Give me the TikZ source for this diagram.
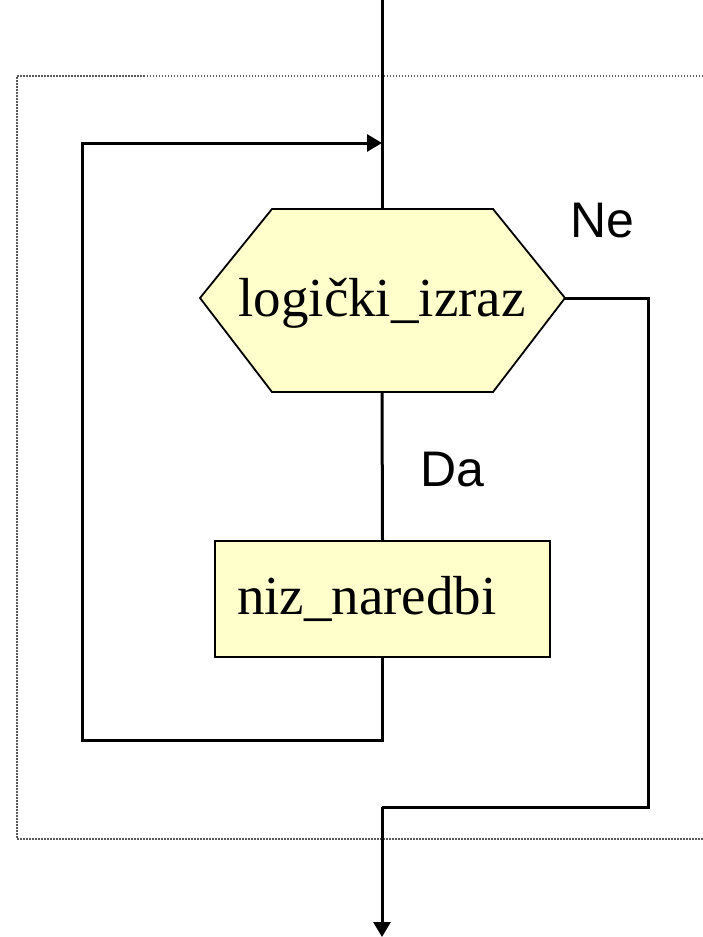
\documentclass[tikz,border=0pt]{standalone}
\usepackage{fontspec}
\setmainfont{Liberation Serif}
\newfontfamily\labelfont{Liberation Sans}
\usetikzlibrary{arrows.meta}
\definecolor{boxfill}{HTML}{FFFFCC}

\begin{document}
\begin{tikzpicture}[
x=1pt, y=-1pt,
flow/.style={line width=3pt, line join=miter},
flowarrow/.style={flow, -{Triangle[length=15pt, width=17pt]}},
frame/.style={black!65, line width=1.5pt, dash pattern=on 1.5pt off 1.5pt},
hexbox/.style={draw=black, fill=boxfill, line width=1.8pt, line join=miter},
stepbox/.style={rectangle, draw=black, fill=boxfill, line width=2.2pt, minimum width=335pt, minimum height=116pt, text width=291pt, inner xsep=22pt, align=left, font=\fontsize{55}{60}\selectfont},
condtext/.style={font=\fontsize{55}{60}\selectfont, inner sep=0pt},
answer/.style={font=\labelfont\fontsize{50}{55}\selectfont, inner sep=0pt},
]
\useasboundingbox (0,0) rectangle (703,937);

% dotted frame (open on the right)
\draw[frame] (703,76) -- (17,76) -- (17,839) -- (703,839);

% condition hexagon
\coordinate (hexT) at (382,209);
\coordinate (hexB) at (382,392);
\coordinate (hexL) at (200,298);
\coordinate (hexR) at (565,298);
\draw[hexbox] (272,209) -- (493,209) -- (hexR) -- (493,392) -- (272,392) -- (hexL) -- cycle;
\node (cond) [condtext] at (382,303) {logički\_izraz};

% loop body
\node (body) [stepbox] at (382.5,599) {niz\_naredbi};

% labels
\node (ne) [answer] at (602,221) {Ne};
\node (da) [answer] at (452,470) {Da};

% connectors
\coordinate (start) at (382,0);
\coordinate (join) at (382,143);
\coordinate (back) at (82,740);
\coordinate (exit) at (382,807);
\coordinate (end) at (382,937);

\draw[flow] (start) -- (hexT);
\draw[flow] (hexB) -- (body.north);
\draw[flowarrow] (body.south) |- (back) |- (join);
\draw[flow] (hexR) -| (648,807) -- (exit);
\draw[flowarrow] (exit) -- (end);
\end{tikzpicture}
\end{document}
